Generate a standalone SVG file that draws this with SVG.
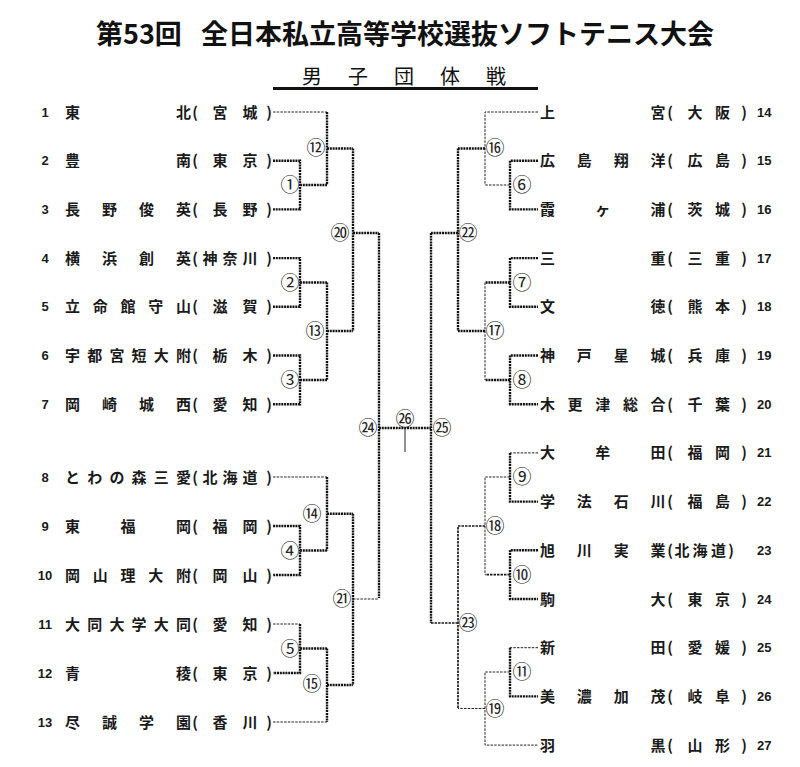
<svg xmlns="http://www.w3.org/2000/svg" width="800" height="767" viewBox="0 0 800 767">
<style>
.bg{fill:#fff}
.title{font-family:"Noto Sans CJK JP","Noto Sans CJK SC",sans-serif;font-size:27px;font-weight:bold;fill:#111}
.sub{font-family:"Noto Sans CJK JP","Noto Sans CJK SC",sans-serif;font-size:20px;fill:#111;text-anchor:middle}
.t{font-family:"Noto Sans CJK JP","Noto Sans CJK SC",sans-serif;font-size:15px;font-weight:bold;fill:#1a1a1a;text-anchor:middle}
.n{font-family:"Liberation Sans",Arial,sans-serif;font-size:13px;font-weight:bold;fill:#1a1a1a}
.nl{text-anchor:middle}
.c{font-family:"Noto Sans CJK JP","Noto Sans CJK SC",sans-serif;font-size:19px;fill:#222;text-anchor:middle}
.thin{fill:none;stroke:#222;stroke-width:1;stroke-dasharray:2.5 1.2}
.med{fill:none;stroke:#1a1a1a;stroke-width:1.7;stroke-dasharray:2.5 1}
.thick{fill:none;stroke:#111;stroke-width:2.4;stroke-dasharray:2 0.8}
.solid{fill:none;stroke:#222;stroke-width:1}
</style>
<rect class="bg" x="0" y="0" width="800" height="767"/>
<g id="title">
<text class="title" y="44"><tspan x="96">第53回</tspan><tspan x="201">全日本私立高等学校選抜ソフトテニス大会</tspan></text>
</g>
<g id="subtitle">
<text class="sub" x="312 358 404 450 496" y="84">男子団体戦</text>
<line x1="273" y1="88.5" x2="538" y2="88.5" stroke="#111" stroke-width="3"/>
</g>
<g id="connectors">
<path class="thin" d="M273 112H327"/>
<path class="thick" d="M327 112V185"/>
<path class="thick" d="M273 160.7H300V209.4H273"/>
<path class="thick" d="M300 185H327"/>
<path class="thick" d="M327 148.5H353"/>
<path class="thick" d="M353 148.5V331"/>
<path class="thick" d="M353 233H379"/>
<path class="thick" d="M273 258.1H300V306.8H273"/>
<path class="thick" d="M300 282.5H327"/>
<path class="thick" d="M273 355.5H300V404.2H273"/>
<path class="thick" d="M300 380H327"/>
<path class="thick" d="M327 282.5V380"/>
<path class="thick" d="M327 331H353"/>
<path class="thick" d="M379 233V598"/>
<path class="thick" d="M379 428H431"/>
<path class="solid" d="M405 428V452"/>
<path class="thin" d="M273 477H327"/>
<path class="thick" d="M327 477V550.5"/>
<path class="thick" d="M273 526H300V575H273"/>
<path class="thick" d="M300 550.5H327"/>
<path class="thick" d="M327 513.7H353"/>
<path class="thin" d="M273 624H300"/>
<path class="thick" d="M300 624V673H273"/>
<path class="thick" d="M300 648.5H327"/>
<path class="thick" d="M327 648.5V722"/>
<path class="thin" d="M273 722H327"/>
<path class="thick" d="M327 685H353"/>
<path class="thick" d="M353 513.7V685"/>
<path class="thin" d="M353 599H379"/>
<path class="thin" d="M538 112H485V185"/>
<path class="thick" d="M485 148.5H458"/>
<path class="thick" d="M538 160.7H510V209.4H538"/>
<path class="thin" d="M510 185H485"/>
<path class="thick" d="M458 148.5V331"/>
<path class="thick" d="M458 233H431"/>
<path class="thick" d="M538 258.1H510V306.8H538"/>
<path class="thick" d="M510 282.5H485"/>
<path class="thick" d="M538 355.5H510V404.2H538"/>
<path class="thick" d="M510 380H485"/>
<path class="thin" d="M485 282.5V380"/>
<path class="thick" d="M485 331H458"/>
<path class="thick" d="M431 233V623"/>
<path class="thin" d="M538 452.9H510"/>
<path class="thick" d="M510 452.9V501.6H538"/>
<path class="thin" d="M510 477H485V574.7"/>
<path class="thick" d="M538 550.3H510V599H538"/>
<path class="med" d="M510 574.7H485"/>
<path class="med" d="M485 526H458V708.5"/>
<path class="med" d="M458 623H431"/>
<path class="thin" d="M538 647.7H510"/>
<path class="thick" d="M510 647.7V696.4H538"/>
<path class="thin" d="M510 672H485V745.1H538"/>
<path class="thin" d="M485 708.5H458"/>
</g>
<g id="team-1"><text class="n nl" x="45" y="116.5">1</text><text class="t" x="72.5 183.5 195 220 250 269" y="117.5">東北(宮城)</text></g>
<g id="team-2"><text class="n nl" x="45" y="165.2">2</text><text class="t" x="72.5 183.5 195 220 250 269" y="166.2">豊南(東京)</text></g>
<g id="team-3"><text class="n nl" x="45" y="213.9">3</text><text class="t" x="72.5 109.5 146.5 183.5 195 220 250 269" y="214.9">長野俊英(長野)</text></g>
<g id="team-4"><text class="n nl" x="45" y="262.6">4</text><text class="t" x="72.5 109.5 146.5 183.5 195 210 230 250 269" y="263.6">横浜創英(神奈川)</text></g>
<g id="team-5"><text class="n nl" x="45" y="311.3">5</text><text class="t" x="72.5 100.25 128 155.75 183.5 195 220 250 269" y="312.3">立命館守山(滋賀)</text></g>
<g id="team-6"><text class="n nl" x="45" y="360">6</text><text class="t" x="72.5 94.7 116.9 139.1 161.3 183.5 195 220 250 269" y="361">宇都宮短大附(栃木)</text></g>
<g id="team-7"><text class="n nl" x="45" y="408.7">7</text><text class="t" x="72.5 109.5 146.5 183.5 195 220 250 269" y="409.7">岡崎城西(愛知)</text></g>
<g id="team-8"><text class="n nl" x="45" y="481.5">8</text><text class="t" x="72.5 94.7 116.9 139.1 161.3 183.5 195 210 230 250 269" y="482.5">とわの森三愛(北海道)</text></g>
<g id="team-9"><text class="n nl" x="45" y="530.5">9</text><text class="t" x="72.5 128 183.5 195 220 250 269" y="531.5">東福岡(福岡)</text></g>
<g id="team-10"><text class="n nl" x="45" y="579.5">10</text><text class="t" x="72.5 100.25 128 155.75 183.5 195 220 250 269" y="580.5">岡山理大附(岡山)</text></g>
<g id="team-11"><text class="n nl" x="45" y="628.5">11</text><text class="t" x="72.5 94.7 116.9 139.1 161.3 183.5 195 220 250 269" y="629.5">大同大学大同(愛知)</text></g>
<g id="team-12"><text class="n nl" x="45" y="677.5">12</text><text class="t" x="72.5 183.5 195 220 250 269" y="678.5">青稜(東京)</text></g>
<g id="team-13"><text class="n nl" x="45" y="726.5">13</text><text class="t" x="72.5 109.5 146.5 183.5 195 220 250 269" y="727.5">尽誠学園(香川)</text></g>
<g id="team-14"><text class="t" x="547.5 658 670 695 722.5 744" y="117.5">上宮(大阪)</text><text class="n" x="757" y="116.5">14</text></g>
<g id="team-15"><text class="t" x="547.5 584.3 621.2 658 670 695 722.5 744" y="166.2">広島翔洋(広島)</text><text class="n" x="757" y="165.2">15</text></g>
<g id="team-16"><text class="t" x="547.5 602.8 658 670 695 722.5 744" y="214.9">霞ヶ浦(茨城)</text><text class="n" x="757" y="213.9">16</text></g>
<g id="team-17"><text class="t" x="547.5 658 670 695 722.5 744" y="263.6">三重(三重)</text><text class="n" x="757" y="262.6">17</text></g>
<g id="team-18"><text class="t" x="547.5 658 670 695 722.5 744" y="312.3">文徳(熊本)</text><text class="n" x="757" y="311.3">18</text></g>
<g id="team-19"><text class="t" x="547.5 584.3 621.2 658 670 695 722.5 744" y="361">神戸星城(兵庫)</text><text class="n" x="757" y="360">19</text></g>
<g id="team-20"><text class="t" x="547.5 575.1 602.8 630.4 658 670 695 722.5 744" y="409.7">木更津総合(千葉)</text><text class="n" x="757" y="408.7">20</text></g>
<g id="team-21"><text class="t" x="547.5 602.8 658 670 695 722.5 744" y="458.4">大牟田(福岡)</text><text class="n" x="757" y="457.4">21</text></g>
<g id="team-22"><text class="t" x="547.5 584.3 621.2 658 670 695 722.5 744" y="507.1">学法石川(福島)</text><text class="n" x="757" y="506.1">22</text></g>
<g id="team-23"><text class="t" x="547.5 584.3 621.2 658 670 682 700 718.5 731" y="555.8">旭川実業(北海道)</text><text class="n" x="757" y="554.8">23</text></g>
<g id="team-24"><text class="t" x="547.5 658 670 695 722.5 744" y="604.5">駒大(東京)</text><text class="n" x="757" y="603.5">24</text></g>
<g id="team-25"><text class="t" x="547.5 658 670 695 722.5 744" y="653.2">新田(愛媛)</text><text class="n" x="757" y="652.2">25</text></g>
<g id="team-26"><text class="t" x="547.5 584.3 621.2 658 670 695 722.5 744" y="701.9">美濃加茂(岐阜)</text><text class="n" x="757" y="700.9">26</text></g>
<g id="team-27"><text class="t" x="547.5 658 670 695 722.5 744" y="750.6">羽黒(山形)</text><text class="n" x="757" y="749.6">27</text></g>
<g id="m1"><text class="c" x="290" y="192">①</text></g>
<g id="m2"><text class="c" x="290" y="289.5">②</text></g>
<g id="m3"><text class="c" x="290" y="387">③</text></g>
<g id="m4"><text class="c" x="290" y="557.5">④</text></g>
<g id="m5"><text class="c" x="290" y="655.5">⑤</text></g>
<g id="m6"><text class="c" x="522" y="192">⑥</text></g>
<g id="m7"><text class="c" x="522" y="289.5">⑦</text></g>
<g id="m8"><text class="c" x="522" y="387">⑧</text></g>
<g id="m9"><text class="c" x="522" y="484">⑨</text></g>
<g id="m10"><text class="c" x="522" y="581.7">⑩</text></g>
<g id="m11"><text class="c" x="522" y="679">⑪</text></g>
<g id="m12"><text class="c" x="316" y="155">⑫</text></g>
<g id="m13"><text class="c" x="315" y="338">⑬</text></g>
<g id="m14"><text class="c" x="312" y="520.5">⑭</text></g>
<g id="m15"><text class="c" x="312" y="691">⑮</text></g>
<g id="m16"><text class="c" x="495" y="154.5">⑯</text></g>
<g id="m17"><text class="c" x="495" y="338">⑰</text></g>
<g id="m18"><text class="c" x="495" y="533">⑱</text></g>
<g id="m19"><text class="c" x="495" y="715.5">⑲</text></g>
<g id="m20"><text class="c" x="340" y="240">⑳</text></g>
<g id="m21"><text class="c" x="342" y="605.5">㉑</text></g>
<g id="m22"><text class="c" x="468" y="240">㉒</text></g>
<g id="m23"><text class="c" x="468" y="630">㉓</text></g>
<g id="m24"><text class="c" x="368" y="435">㉔</text></g>
<g id="m25"><text class="c" x="442" y="435">㉕</text></g>
<g id="m26"><text class="c" x="405" y="426">㉖</text></g>
</svg>
